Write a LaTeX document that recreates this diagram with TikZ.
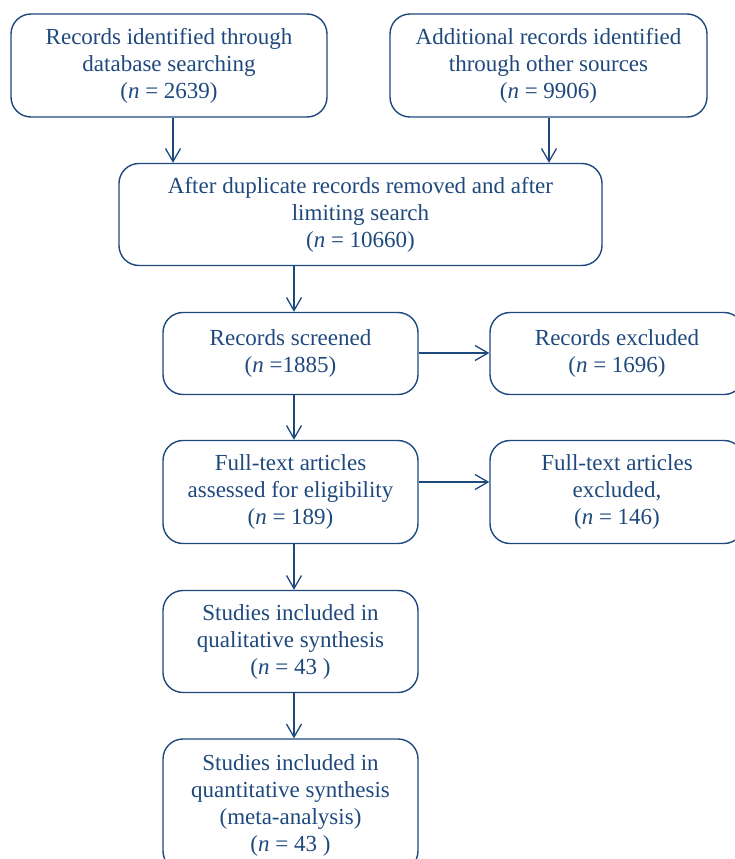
\documentclass[tikz,border=0pt]{standalone}
\usepackage{fontspec}
\setmainfont{Liberation Serif}
\usetikzlibrary{arrows.meta}
\definecolor{navy}{RGB}{31,73,125}
\tikzset{
  box/.style={draw=navy, line width=1.4pt, rounded corners=20pt, align=center, text=navy,
    inner sep=0pt, font=\fontsize{23}{27}\selectfont},
  arr/.style={draw=navy, line width=1.3pt, -{Straight Barb[length=13pt,width=15pt]}}
}
\newcommand{\nn}{(\textit{n}}
\begin{document}
\begin{tikzpicture}[x=1pt,y=-1pt]
\useasboundingbox (0,0) rectangle (735,859);
\clip (0,0) rectangle (735,859);
\node[box, minimum width=316pt, minimum height=103pt] (b1) at (169,65.5)
  {Records identified through\\database searching\\\nn{} = 2639)};
\node[box, minimum width=317pt, minimum height=103pt] (b2) at (548.5,65.5)
  {Additional records identified\\through other sources\\\nn{} = 9906)};
\node[box, minimum width=483pt, minimum height=102pt] (b3) at (360.5,214.5)
  {After duplicate records removed and after\\limiting search\\\nn{} = 10660)};
\node[box, minimum width=255pt, minimum height=82pt] (b4) at (290.5,353.5)
  {Records screened\\\nn{} =1885)};
\node[box, minimum width=254pt, minimum height=82pt] (b5) at (617,353.5)
  {Records excluded\\\nn{} = 1696)};
\node[box, minimum width=255pt, minimum height=103pt] (b6) at (290.5,492)
  {Full-text articles\\assessed for eligibility\\\nn{} = 189)};
\node[box, minimum width=254pt, minimum height=103pt] (b7) at (617,492)
  {Full-text articles\\excluded,\\\nn{} = 146)};
\node[box, minimum width=255pt, minimum height=102pt] (b8) at (290.5,641.5)
  {Studies included in\\qualitative synthesis\\\nn{} = 43 )};
\node[box, minimum width=255pt, minimum height=132pt] (b9) at (290.5,805)
  {Studies included in\\quantitative synthesis\\(meta-analysis)\\\nn{} = 43 )};
\draw[arr] (b1.south -| 173,0) -- (b3.north -| 173,0);
\draw[arr] (b2.south -| 549,0) -- (b3.north -| 549,0);
\draw[arr] (b3.south -| 294,0) -- (b4.north -| 294,0);
\draw[arr] (b4.south -| 294,0) -- (b6.north -| 294,0);
\draw[arr] (b6.south -| 294,0) -- (b8.north -| 294,0);
\draw[arr] (b8.south -| 294,0) -- (b9.north -| 294,0);
\draw[arr] (b4.east |- 0,353) -- (b5.west |- 0,353);
\draw[arr] (b6.east |- 0,482) -- (b7.west |- 0,482);
\end{tikzpicture}
\end{document}
